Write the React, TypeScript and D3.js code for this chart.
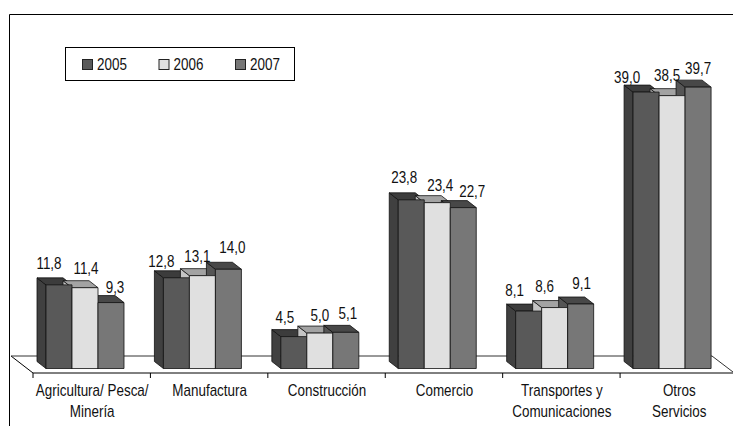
import React from "react";
import * as d3 from "d3";

const categories = [
  ["Agricultura/ Pesca/", "Minería"],
  ["Manufactura"],
  ["Construcción"],
  ["Comercio"],
  ["Transportes y", "Comunicaciones"],
  ["Otros", "Servicios"],
];
const years = ["2005", "2006", "2007"];
const values2005 = [11.8, 12.8, 4.5, 23.8, 8.1, 39.0];
const values2006 = [11.4, 13.1, 5.0, 23.4, 8.6, 38.5];
const values2007 = [9.3, 14.0, 5.1, 22.7, 9.1, 39.7];
const labelShiftX = [
  [-10, 1, 4],
  [-15, -5, 4],
  [-9, 0, 2],
  [-7, 3, 9],
  [-14, -10, 1],
  [-19, -5, 0],
];
const labelShiftY = [
  [0, 2, 6],
  [5, 2, 0],
  [2, 4, 3],
  [-1, 4, 5],
  [1, 0, 1],
  [7, 1, 3],
];
const front = ["#595959", "#e0e0e0", "#777777"];
const side = ["#404040", "#c4c4c4", "#555555"];
const top = ["#3c3c3c", "#a3a3a3", "#484848"];

const DX = 9, DY = 7;
const SX = 0.84;
const fontFamily = "'Liberation Sans',Arial,sans-serif";

function T({ x, y, anchor, children }: { x: number; y: number; anchor?: string; children: React.ReactNode }) {
  return (
    <text transform={`translate(${x},${y}) scale(${SX},1)`} textAnchor={anchor ?? "middle"} fontSize={16} fill="#111">
      {children}
    </text>
  );
}

export default function App() {
  const series = [values2005, values2006, values2007];
  const x0 = d3.scaleBand<number>().domain(d3.range(6)).range([33, 737.5]);
  const x1 = d3.scaleBand<number>().domain([0, 1, 2]).range([0, 78]);
  const y = d3.scaleLinear().domain([0, 40]).range([368.5, 85]);
  const inset = 13;
  const line = d3.line();
  const barLeft = (i: number, s: number) => (x0(i) ?? 0) + inset + (x1(s) ?? 0);
  return (
    <svg width={733} height={426} style={{ position: "fixed", left: 0, top: 0, background: "#fff" }} fontFamily={fontFamily}>
      <path d="M9.5 426V14.5H733" fill="none" stroke="#000" strokeWidth={1} />
      <path d={line([[11, 356], [33, 373], [733, 373]]) ?? ""} fill="none" stroke="#000" />
      <path d={line([[11, 356], [712, 356], [733, 372]]) ?? ""} fill="none" stroke="#333" />
      {d3.range(6).map((i) => (
        <line key={i} x1={x0(i)} x2={x0(i)} y1={373} y2={378} stroke="#000" />
      ))}
      {categories.map((lines, i) =>
        lines.map((t, j) => (
          <T key={`${i}-${j}`} x={(x0(i) ?? 0) + x0.bandwidth() / 2 + 0.5} y={396 + j * 20.5}>{t}</T>
        ))
      )}
      {d3.range(6).map((i) => (
        <g key={i} stroke="#111" strokeWidth={0.8} strokeLinejoin="round">
          {series.map((vals, s) => {
            const l = barLeft(i, s);
            const r = l + x1.bandwidth(), b = y(0), t = y(vals[i]);
            return (
              <g key={s}>
                <path d={line([[l, b], [l - DX, b - DY], [l - DX, t - DY], [l, t]]) + "Z"} fill={side[s]} />
                <path d={line([[l, t], [l - DX, t - DY], [r - DX, t - DY], [r, t]]) + "Z"} fill={top[s]} />
              </g>
            );
          })}
          {series.map((vals, s) => (
            <rect key={s} x={barLeft(i, s)} y={y(vals[i])} width={x1.bandwidth()} height={y(0) - y(vals[i])} fill={front[s]} />
          ))}
        </g>
      ))}
      {d3.range(6).map((i) =>
        series.map((vals, s) => (
          <T key={`${i}-${s}`} x={barLeft(i, s) + x1.bandwidth() / 2 + labelShiftX[i][s]} y={y(vals[i]) - 16 + labelShiftY[i][s]}>
            {vals[i].toFixed(1).replace(".", ",")}
          </T>
        ))
      )}
      <rect x={65.5} y={47.5} width={229} height={33} fill="#fff" stroke="#000" />
      {years.map((yr, s) => {
        const lx = 82 + s * 76.5;
        return (
          <g key={yr}>
            <rect x={lx + 0.5} y={59.5} width={10} height={10} fill={front[s]} stroke="#222" />
            <T x={lx + 15} y={70} anchor="start">{yr}</T>
          </g>
        );
      })}
    </svg>
  );
}
